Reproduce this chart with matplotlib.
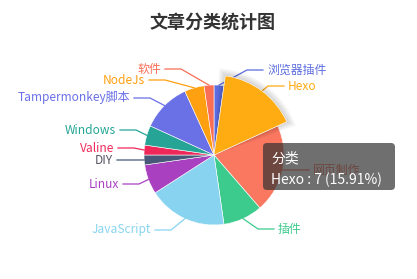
import numpy as np
import matplotlib.pyplot as plt
from matplotlib.patches import Wedge, FancyBboxPatch

plt.rcParams['font.family'] = ['Noto Sans CJK SC', 'DejaVu Sans']

# data
categories = ['浏览器插件', 'Hexo', '网页制作', '插件', 'JavaScript', 'Linux',
              'DIY', 'Valine', 'Windows', 'Tampermonkey脚本', 'NodeJs', '软件']
counts = [1, 7, 9, 4, 8, 3, 1, 1, 2, 5, 2, 1]
colors = ['#5d6ddf', '#ffab12', '#fa7760', '#3ccb8c', '#88d4f0', '#a840c0',
          '#485878', '#f0285a', '#26a597', '#6a70e6', '#ffa010', '#fa6e55']
highlight = 'Hexo'

# label layout in pixels (text edge x, text centre y)
label_x = [267, 288, 313, 278, 151, 119, 113, 114, 116, 130, 145, 161]
label_y = [70, 86, 170, 229, 230, 184, 160, 148, 130, 98, 80, 69]

W, H = 417, 279
cx, cy = 214, H - 155
R = 70

fig = plt.figure(figsize=(W / 100, H / 100), dpi=100)
ax = fig.add_axes([0, 0, 1, 1])

wedges, _ = ax.pie(counts, colors=colors, startangle=90, counterclock=False,
                   radius=R, center=(cx, cy),
                   wedgeprops=dict(edgecolor='white', linewidth=0.4))

hi = categories.index(highlight)
hw = wedges[hi]
hw.set_radius(R + 10)
hw.set_zorder(5)
# soft shadow round the highlighted slice
for k in range(1, 8):
    ax.add_patch(Wedge((cx, cy), R + 10 + k, hw.theta1 - k * 0.7, hw.theta2 + k * 0.7,
                       facecolor='black', edgecolor='none', alpha=0.025, zorder=4))

for i, w in enumerate(wedges):
    mid = np.deg2rad((w.theta1 + w.theta2) / 2)
    r = w.r
    ex, ey = cx + r * np.cos(mid), cy + r * np.sin(mid)
    lx, ly = label_x[i], H - label_y[i]
    if np.cos(mid) >= 0:
        xs = [ex, lx - 20, lx - 4]
        ha = 'left'
    else:
        xs = [ex, lx + 20, lx + 4]
        ha = 'right'
    ax.plot(xs, [ey, ly, ly], color=colors[i], lw=0.9, zorder=3)
    txt_color = '#555566' if categories[i] == 'DIY' else colors[i]
    ax.text(lx, ly, categories[i], color=txt_color, fontsize=8.6,
            ha=ha, va='center', zorder=3)

ax.text(213, H - 22, '文章分类统计图', fontsize=13, fontweight='bold',
        color='#333333', ha='center', va='center')

# tooltip for the highlighted slice
total = sum(counts)
ax.add_patch(FancyBboxPatch((263, H - 190), 132, 47,
                            boxstyle='round,pad=0,rounding_size=4',
                            facecolor=(50 / 255, 50 / 255, 50 / 255, 0.7),
                            edgecolor='none', zorder=10))
ax.text(271, H - 158, '分类', color='white', fontsize=10, ha='left', va='center', zorder=11)
ax.text(271, H - 180, f'{highlight} : {counts[hi]} ({counts[hi] / total * 100:.2f}%)',
        color='white', fontsize=10, ha='left', va='center', zorder=11)

ax.set_xlim(0, W)
ax.set_ylim(0, H)
ax.set_aspect('auto')
ax.axis('off')

plt.savefig('out.png', dpi=100)
